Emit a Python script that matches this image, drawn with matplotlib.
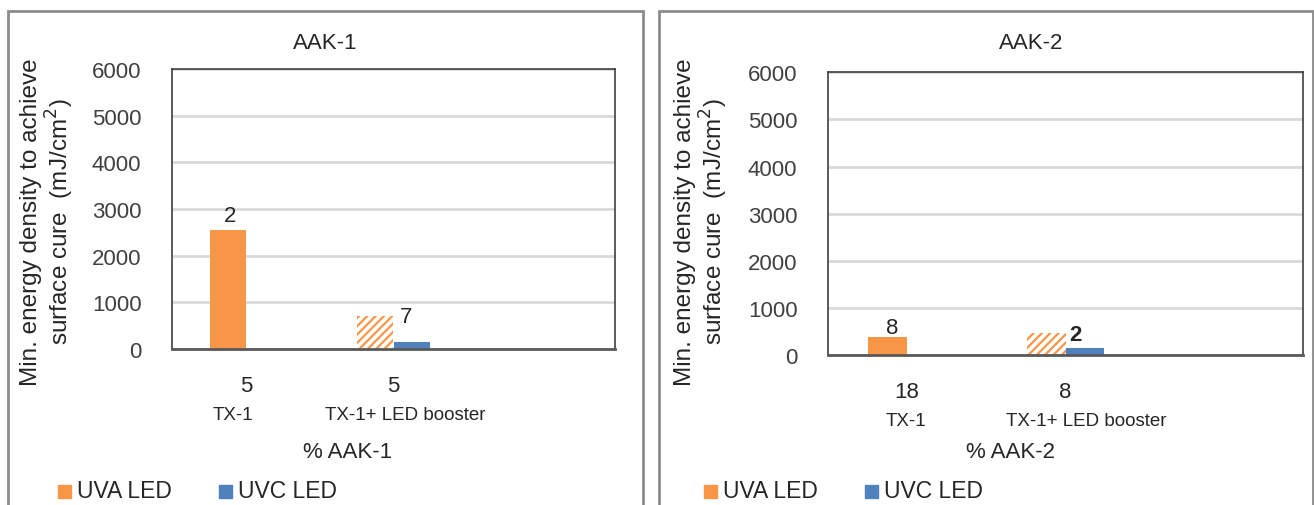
import numpy as np
import matplotlib.pyplot as plt
from matplotlib.patches import Rectangle

plt.rcParams['font.family'] = ['Liberation Sans', 'DejaVu Sans']
plt.rcParams['hatch.linewidth'] = 1.6

# data
categories = ['TX-1', 'TX-1+ LED booster', '']
aak1_pct = ['5', '5', '']
aak2_pct = ['18', '8', '']
aak1_uva = [2560, 715, np.nan]
aak1_uvc = [0, 145, np.nan]
aak2_uva = [375, 460, np.nan]
aak2_uvc = [0, 142, np.nan]
aak1_notes = ['2', '7']
aak2_notes = ['8', '2']

ORANGE = '#F79646'
BLUE = '#4F81BD'
TXT = '#262626'
W, H = 1314, 506


def fx(px):
    return px / W


def fy(py):
    return 1 - py / H


fig = plt.figure(figsize=(W / 100, H / 100), dpi=100)

# panel frames
for x0, x1 in [(8, 643), (659, 1313)]:
    fig.patches.append(Rectangle((fx(x0), -0.1), fx(x1 - x0), fy(12) + 0.1,
                                 transform=fig.transFigure, fill=False,
                                 edgecolor='#8c8c8c', linewidth=2))


def panel(rect, uva, uvc, notes, note_pos, pct, title, xlab, px):
    ax = fig.add_axes(rect)
    x = np.arange(len(categories))
    w = 0.245
    bars = ax.bar(x - w / 2, uva, w, color=ORANGE, linewidth=0)
    bars[1].set_facecolor('white')
    bars[1].set_edgecolor(ORANGE)
    bars[1].set_hatch('////')
    ax.bar(x + w / 2, uvc, w, color=BLUE, linewidth=0)
    ax.set_xlim(-0.5, len(categories) - 0.5)
    ax.set_ylim(0, 6000)
    ax.set_yticks(range(0, 6001, 1000))
    ax.yaxis.grid(True, color='#d9d9d9', linewidth=2)
    ax.set_axisbelow(True)
    ax.tick_params(axis='y', length=0, pad=22, labelsize=16, colors='#404040')
    ax.set_xticks([])
    for s in ['top', 'right', 'left']:
        ax.spines[s].set_color('#404040')
        ax.spines[s].set_linewidth(1.2)
    ax.spines['bottom'].set_color('#595959')
    ax.spines['bottom'].set_linewidth(2)
    # small count labels next to the UVA bars
    for lab, (i, dx, dy, wt) in zip(notes, note_pos):
        ax.annotate(lab, (x[i] - w / 2, uva[i]), xytext=(dx, dy),
                    textcoords='offset pixels', ha='center', va='bottom',
                    fontsize=16, color=TXT, fontweight=wt)
    # category labels below the axis
    for i in range(len(categories)):
        xp = ax.transData.transform((x[i], 0))[0] / W
        ax_b = rect[1]
        fig.text(xp, ax_b - 37 / H, pct[i], ha='center', va='center',
                 fontsize=16, color=TXT)
        fig.text(xp + px['cat_dx'][i] / W, ax_b - 66 / H, categories[i], ha='center',
                 va='center', fontsize=13.5, color=TXT)
    fig.text(fx(px['title']), fy(44), title, ha='center', va='center',
             fontsize=16, color=TXT)
    fig.text(fx(px['xlab']), fy(453), xlab, ha='center', va='center',
             fontsize=16, color=TXT)
    fig.text(fx(px['ylab']), fy(222), 'Min. energy density to achieve\nsurface cure  (mJ/cm$^2$)',
             rotation=90, ha='center', va='center', fontsize=17.5,
             color=TXT, linespacing=1.1)
    # legend
    for xs, col, lab in [(px['leg'], ORANGE, 'UVA LED'), (px['leg'] + 161, BLUE, 'UVC LED')]:
        fig.patches.append(Rectangle((fx(xs - 6), fy(499)), fx(13), 13 / H,
                                     transform=fig.transFigure, color=col))
        fig.text(fx(xs + 13), fy(492), lab, ha='left', va='center',
                 fontsize=16.5, color=TXT)
    return ax


panel([fx(172), fy(350), fx(443), 280 / H], aak1_uva, aak1_uvc, aak1_notes,
      [(0, 2, 4, 'normal'), (1, 31, -11, 'normal')], aak1_pct, 'AAK-1', '% AAK-1',
      {'cat_dx': [-13, 12, 0], 'title': 325, 'xlab': 348, 'ylab': 48, 'leg': 64})
panel([fx(828), fy(356), fx(475), 282.7 / H], aak2_uva, aak2_uvc, aak2_notes,
      [(0, 4, -1, 'normal'), (1, 29, -12, 'bold')], aak2_pct, 'AAK-2', '% AAK-2',
      {'cat_dx': [-1, 21, 0], 'title': 1031, 'xlab': 1011, 'ylab': 702, 'leg': 710})

fig.savefig('out.png', dpi=100)
